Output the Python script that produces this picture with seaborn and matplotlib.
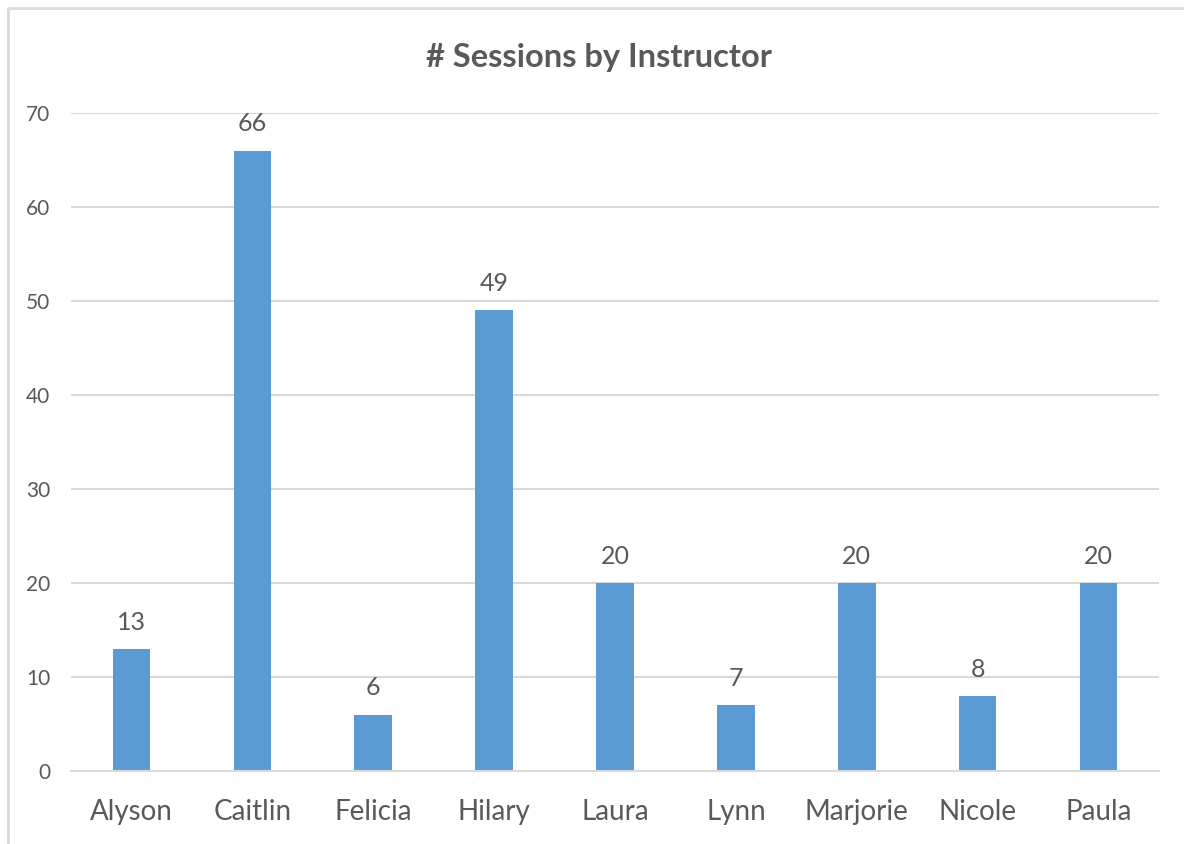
import pandas as pd
import matplotlib.pyplot as plt
import seaborn as sns
from matplotlib.lines import Line2D

instructors = ["Alyson", "Caitlin", "Felicia", "Hilary", "Laura", "Lynn", "Marjorie", "Nicole", "Paula"]
sessions = [13, 66, 6, 49, 20, 7, 20, 8, 20]
y_ticks = [0, 10, 20, 30, 40, 50, 60, 70]

BAR_COLOR = "#5B9BD5"
TEXT_COLOR = "#595959"
GRID_COLOR = "#D9D9D9"

sns.set_style("white")
plt.rcParams["font.family"] = ["Lato", "DejaVu Sans"]

df = pd.DataFrame({"instructor": instructors, "sessions": sessions})

fig = plt.figure(figsize=(11.84, 8.44), dpi=100)
ax = fig.add_axes([71 / 1184, 1 - 771 / 844, 1088 / 1184, 658 / 844])

sns.barplot(data=df, x="instructor", y="sessions", color=BAR_COLOR, width=0.31,
            saturation=1, linewidth=0, ax=ax)

ax.set_ylim(0, 70)
ax.set_yticks(y_ticks)
ax.yaxis.grid(True, color=GRID_COLOR, linewidth=1.5)
ax.set_axisbelow(True)
for s in ["top", "right", "left"]:
    ax.spines[s].set_visible(False)
ax.spines["bottom"].set_color(GRID_COLOR)
ax.spines["bottom"].set_linewidth(1.5)

ax.tick_params(axis="x", length=0, pad=20, labelsize=20, labelcolor=TEXT_COLOR)
ax.tick_params(axis="y", length=0, pad=15, labelsize=15, labelcolor=TEXT_COLOR)
ax.set_xlabel("")
ax.set_ylabel("")

ax.bar_label(ax.containers[0], padding=11, fontsize=18, color=TEXT_COLOR)

fig.text(599 / 1184, 1 - 57 / 844, "# Sessions by Instructor", ha="center", va="center",
         fontsize=23.5, fontweight="bold", color=TEXT_COLOR)

# chart frame (left and top edges visible)
fig.add_artist(Line2D([8 / 1184, 8 / 1184], [0, 1 - 8 / 844], transform=fig.transFigure,
                      color=GRID_COLOR, linewidth=2))
fig.add_artist(Line2D([8 / 1184, 1], [1 - 8 / 844, 1 - 8 / 844], transform=fig.transFigure,
                      color=GRID_COLOR, linewidth=2))

fig.savefig("out.png", dpi=100)
